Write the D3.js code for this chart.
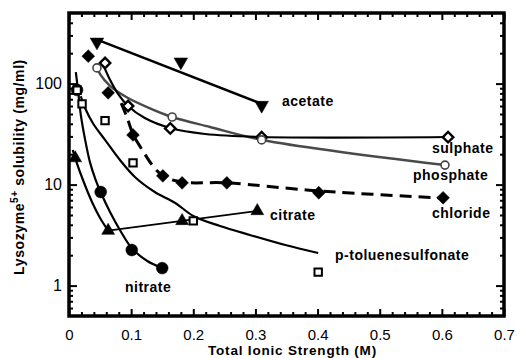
<!DOCTYPE html>
<html>
<head>
<meta charset="utf-8">
<script src="https://cdn.jsdelivr.net/npm/d3@7"></script>
<style>
  body { margin: 0; background: #fff; }
  svg { display: block; font-family: "Liberation Sans", Arial, sans-serif; }
</style>
</head>
<body>
<svg id="chart" width="517" height="358"></svg>
<script>
// measured points, [ionic strength (M), solubility (mg/ml)]
const acetate = [[0.045, 258], [0.18, 164], [0.31, 61]];
const acetateFit = [[0.042, 277], [0.311, 62.8]];
const sulphate = [[0.058, 160], [0.095, 60], [0.163, 36], [0.31, 29.5], [0.61, 29.5]];
const sulphateFit = [[0.056, 149], [0.066, 109], [0.079, 79], [0.095, 60], [0.122, 45.6], [0.163, 36.3], [0.219, 31.7], [0.311, 29.6], [0.611, 29.6]];
const phosphate = [[0.045, 143], [0.166, 46.7], [0.31, 27.7], [0.605, 15.6]];
const phosphateFit = [[0.043, 156], [0.05, 124], [0.066, 95], [0.095, 72], [0.13, 57], [0.166, 46.7], [0.227, 37.2], [0.311, 27.7], [0.605, 15.6]];
const chloride = [[0.031, 187], [0.063, 81], [0.103, 31], [0.151, 12.2], [0.182, 10.4], [0.254, 10.4], [0.402, 8.3], [0.602, 7.4]];
const chlorideFit = [[0.084, 64], [0.093, 47], [0.103, 31.7], [0.118, 22], [0.134, 15.6], [0.151, 12.2], [0.182, 10.6], [0.254, 10.4], [0.402, 8.65], [0.602, 7.36]];
const ptoluene = [[0.013, 86], [0.021, 63], [0.058, 43], [0.103, 16.4], [0.2, 4.37], [0.401, 1.36]];
const ptolueneFit = [[0.019, 75], [0.026, 57], [0.039, 40], [0.058, 27.7], [0.082, 17.5], [0.106, 11.9], [0.138, 8.45], [0.171, 6.58], [0.2, 4.89], [0.243, 3.89], [0.291, 3.17], [0.348, 2.52], [0.401, 2.1]];
const nitrate = [[0.013, 86.5], [0.051, 8.45], [0.101, 2.25], [0.15, 1.49]];
const nitrateFit = [[0.011, 130], [0.0145, 86], [0.019, 49], [0.026, 27.7], [0.034, 16.4], [0.043, 11.1], [0.0515, 8.26], [0.066, 5.36], [0.082, 3.55], [0.101, 2.35], [0.126, 1.75], [0.15, 1.49]];
const citrate = [[0.01, 18.3], [0.063, 3.5], [0.182, 4.37], [0.303, 5.48]];
const citrateFit = [[0.006, 22], [0.011, 17.5], [0.0225, 11.1], [0.037, 6.73], [0.05, 4.67], [0.063, 3.5]];
const citrateJoin = [[0.063, 3.5], [0.182, 4.37], [0.303, 5.48]];

const xTicks = [0, 0.1, 0.2, 0.3, 0.4, 0.5, 0.6, 0.7];
const xTickLabels = ["0", "0.1", "0.2", "0.3", "0.4", "0.5", "0.6", "0.7"];
const yTicks = [1, 10, 100];
const yTickLabels = ["1", "10", "100"];
const yMinor = [0.6, 0.7, 0.8, 0.9, 2, 3, 4, 5, 6, 7, 8, 9, 20, 30, 40, 50, 60, 70, 80, 90, 200, 300, 400];

const svg = d3.select("#chart");
const plot = {left: 69, right: 504, top: 13, bottom: 316};

const x = d3.scaleLinear().domain([0, 0.7]).range([plot.left, plot.right]);
const y = d3.scaleLog().domain([0.5, 500]).range([plot.bottom, plot.top]);

// axes: ticks point into the plot, mirrored on top and right
const xMinor = d3.range(0, 0.701, 0.02).filter(v => Math.abs(v * 10 - Math.round(v * 10)) > 1e-6);

function styleAxis(g) {
  g.select(".domain").remove();
  g.selectAll("line").attr("stroke", "#000").attr("stroke-width", 2);
}

svg.append("g").attr("transform", "translate(0," + plot.bottom + ")")
  .call(d3.axisBottom(x).tickValues(xTicks).tickSize(-7).tickPadding(13)
    .tickFormat((d, i) => xTickLabels[i]))
  .call(styleAxis)
  .selectAll("text").attr("font-size", 15).attr("fill", "#000")
  .attr("font-family", "Liberation Sans, Arial, sans-serif");
svg.append("g").attr("transform", "translate(0," + plot.bottom + ")")
  .call(d3.axisBottom(x).tickValues(xMinor).tickSize(-4).tickFormat(""))
  .call(styleAxis);
svg.append("g").attr("transform", "translate(0," + plot.top + ")")
  .call(d3.axisTop(x).tickValues(xTicks).tickSize(-7).tickFormat(""))
  .call(styleAxis);
svg.append("g").attr("transform", "translate(0," + plot.top + ")")
  .call(d3.axisTop(x).tickValues(xMinor).tickSize(-4).tickFormat(""))
  .call(styleAxis);

svg.append("g").attr("transform", "translate(" + plot.left + ",0)")
  .call(d3.axisLeft(y).tickValues(yTicks).tickSize(-8).tickPadding(7)
    .tickFormat((d, i) => yTickLabels[i]))
  .call(styleAxis)
  .selectAll("text").attr("font-size", 16).attr("fill", "#000")
  .attr("font-family", "Liberation Sans, Arial, sans-serif");
svg.append("g").attr("transform", "translate(" + plot.left + ",0)")
  .call(d3.axisLeft(y).tickValues(yMinor).tickSize(-4).tickFormat(""))
  .call(styleAxis);
svg.append("g").attr("transform", "translate(" + plot.right + ",0)")
  .call(d3.axisRight(y).tickValues(yTicks).tickSize(-8).tickFormat(""))
  .call(styleAxis);
svg.append("g").attr("transform", "translate(" + plot.right + ",0)")
  .call(d3.axisRight(y).tickValues(yMinor).tickSize(-4).tickFormat(""))
  .call(styleAxis);

svg.append("rect")
  .attr("x", plot.left).attr("y", plot.top)
  .attr("width", plot.right - plot.left).attr("height", plot.bottom - plot.top)
  .attr("fill", "none").attr("stroke", "#000").attr("stroke-width", 3.5);

// fitted curves
const smooth = d3.line().x(d => x(d[0])).y(d => y(d[1])).curve(d3.curveCatmullRom.alpha(0.5));
const straight = d3.line().x(d => x(d[0])).y(d => y(d[1]));

function drawLine(data, gen, color, width, dash) {
  svg.append("path").datum(data)
    .attr("d", gen)
    .attr("fill", "none")
    .attr("stroke", color)
    .attr("stroke-width", width)
    .attr("stroke-dasharray", dash || null)
    .attr("stroke-linejoin", "round");
}

drawLine(acetateFit, straight, "#000", 2.5);
drawLine(phosphateFit, smooth, "#4a4a4a", 2.5);
drawLine(sulphateFit, smooth, "#000", 2.2);
drawLine(chlorideFit, smooth, "#000", 3, "12,7");
drawLine(ptolueneFit, smooth, "#000", 2.2);
drawLine(nitrateFit, smooth, "#000", 2.2);
drawLine(citrateFit, smooth, "#000", 2.2);
drawLine(citrateJoin, straight, "#000", 1.8);

// markers
function drawMarkers(data, type, size, rotate, fill, stroke, sw) {
  svg.append("g").selectAll("path").data(data).enter()
    .append("path")
    .attr("d", d3.symbol().type(type).size(size))
    .attr("transform", d => "translate(" + x(d[0]) + "," + y(d[1]) + ") rotate(" + rotate + ")")
    .attr("fill", fill)
    .attr("stroke", stroke)
    .attr("stroke-width", sw);
}

drawMarkers(acetate, d3.symbolTriangle, 80, 180, "#000", "#000", 0.5);
drawMarkers(chloride, d3.symbolSquare, 82, 45, "#000", "#000", 0.5);
drawMarkers(nitrate, d3.symbolCircle, 110, 0, "#000", "#000", 0.5);
drawMarkers(citrate, d3.symbolTriangle, 72, 0, "#000", "#000", 0.5);
drawMarkers(ptoluene, d3.symbolSquare, 55, 0, "#fff", "#000", 2);
drawMarkers(sulphate, d3.symbolSquare, 55, 45, "#fff", "#000", 2.4);
drawMarkers(phosphate, d3.symbolCircle, 50, 0, "#fff", "#444", 1.6);

// series labels
const labelNames = ["acetate", "sulphate", "phosphate", "chloride", "citrate", "p-toluenesulfonate", "nitrate"];
const labelPos = [[282, 106], [432, 153], [413, 180], [432, 218], [270, 220], [335, 260], [125, 292]];

svg.append("g").selectAll("text").data(labelNames).enter()
  .append("text")
  .attr("x", (d, i) => labelPos[i][0])
  .attr("y", (d, i) => labelPos[i][1])
  .attr("font-size", 14).attr("font-weight", "bold")
  .attr("letter-spacing", 0.5)
  .text(d => d);

// axis titles
svg.append("text")
  .attr("x", (plot.left + plot.right) / 2 + 6).attr("y", 355)
  .attr("text-anchor", "middle")
  .attr("font-size", 13.5).attr("font-weight", "bold")
  .attr("letter-spacing", 0.8)
  .text("Total Ionic Strength (M)");

const yTitle = svg.append("text")
  .attr("transform", "translate(24,167) rotate(-90)")
  .attr("text-anchor", "middle")
  .attr("font-size", 14).attr("font-weight", "bold")
  .attr("letter-spacing", 0.6);
yTitle.append("tspan").text("Lysozyme");
yTitle.append("tspan").attr("font-size", 10).attr("dy", -6).text("5+");
yTitle.append("tspan").attr("dy", 6).text(" solubility (mg/ml)");
</script>
</body>
</html>
